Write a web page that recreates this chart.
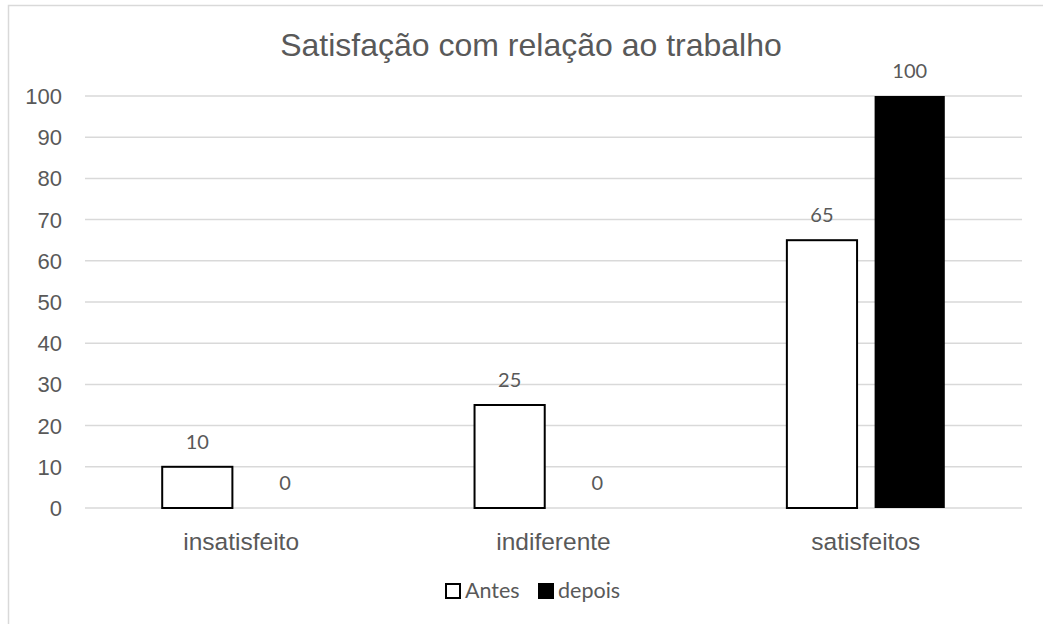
<!DOCTYPE html>
<html>
<head>
<meta charset="utf-8">
<script src="https://cdn.jsdelivr.net/npm/d3@7"></script>
<style>
  body { margin: 0; background: #fff; }
  svg { display: block; }
</style>
</head>
<body>
<svg id="chart"></svg>
<script>
const width = 1043,
  height = 624;

const categories = ["insatisfeito", "indiferente", "satisfeitos"];
const seriesNames = ["Antes", "depois"];
const antes = [10, 25, 65];
const depois = [0, 0, 100];
const yTicks = [0, 10, 20, 30, 40, 50, 60, 70, 80, 90, 100];
const title = "Satisfação com relação ao trabalho";

const textColor = "#595959";
const gridColor = "#d9d9d9";

const svg = d3
  .select("#chart")
  .attr("width", width)
  .attr("height", height);

// outer frame (runs off right and bottom edges)
svg
  .append("rect")
  .attr("x", 8.5)
  .attr("y", 5.5)
  .attr("width", 1100)
  .attr("height", 700)
  .attr("fill", "#fff")
  .attr("stroke", gridColor)
  .attr("stroke-width", 1.5);

const x = d3
  .scaleBand()
  .domain(categories)
  .range([85, 1022])
  .padding(0);

const xInner = d3
  .scaleBand()
  .domain(seriesNames)
  .range([0, x.bandwidth()])
  .paddingInner(0.2)
  .paddingOuter(0.88);

const y = d3
  .scaleLinear()
  .domain([0, 100])
  .range([508, 96]);

// gridlines
svg
  .append("g")
  .selectAll("line")
  .data(yTicks)
  .enter()
  .append("line")
  .attr("x1", 85)
  .attr("x2", 1022)
  .attr("y1", d => y(d))
  .attr("y2", d => y(d))
  .attr("stroke", gridColor)
  .attr("stroke-width", 1.5);

// y tick labels
svg
  .append("g")
  .selectAll("text")
  .data(yTicks)
  .enter()
  .append("text")
  .attr("x", 62)
  .attr("y", d => y(d))
  .attr("dy", "0.36em")
  .attr("text-anchor", "end")
  .attr("font-family", "Liberation Sans, Arial, sans-serif")
  .attr("font-size", 22)
  .attr("fill", textColor)
  .text(d => d);

// category labels
svg
  .append("g")
  .selectAll("text")
  .data(categories)
  .enter()
  .append("text")
  .attr("x", d => x(d) + x.bandwidth() / 2)
  .attr("y", 550)
  .attr("text-anchor", "middle")
  .attr("font-family", "Liberation Sans, Arial, sans-serif")
  .attr("font-size", 24.5)
  .attr("fill", textColor)
  .text(d => d);

const rows = [];
categories.forEach((c, i) => {
  rows.push({ cat: c, series: "Antes", value: antes[i] });
  rows.push({ cat: c, series: "depois", value: depois[i] });
});

const bars = svg.append("g");
bars
  .selectAll("rect")
  .data(rows.filter(d => d.value > 0))
  .enter()
  .append("rect")
  .attr("x", d => x(d.cat) + xInner(d.series))
  .attr("y", d => y(d.value))
  .attr("width", xInner.bandwidth())
  .attr("height", d => y(0) - y(d.value))
  .attr("fill", d => (d.series === "Antes" ? "#fff" : "#000"))
  .attr("stroke", "#000")
  .attr("stroke-width", d => (d.series === "Antes" ? 2 : 0));

// data labels
svg
  .append("g")
  .selectAll("text")
  .data(rows)
  .enter()
  .append("text")
  .attr("x", d => x(d.cat) + xInner(d.series) + xInner.bandwidth() / 2)
  .attr("y", d => y(d.value) - 18)
  .attr("text-anchor", "middle")
  .attr("font-family", "Lato, Open Sans, sans-serif")
  .attr("font-size", 20)
  .attr("fill", textColor)
  .text(d => d.value);

// title
svg
  .append("text")
  .attr("x", 531)
  .attr("y", 56)
  .attr("text-anchor", "middle")
  .attr("font-family", "Liberation Sans, Arial, sans-serif")
  .attr("font-size", 32)
  .attr("fill", textColor)
  .text(title);

// legend
const legend = svg.append("g");
const legendX = [445, 538];
seriesNames.forEach((s, i) => {
  legend
    .append("rect")
    .attr("x", legendX[i] + 1)
    .attr("y", 584)
    .attr("width", 14)
    .attr("height", 14)
    .attr("fill", i === 0 ? "#fff" : "#000")
    .attr("stroke", "#000")
    .attr("stroke-width", 2);
  legend
    .append("text")
    .attr("x", legendX[i] + 20)
    .attr("y", 598)
    .attr("font-family", "Lato, Open Sans, sans-serif")
    .attr("font-size", 21.5)
    .attr("fill", textColor)
    .text(s);
});
</script>
</body>
</html>
